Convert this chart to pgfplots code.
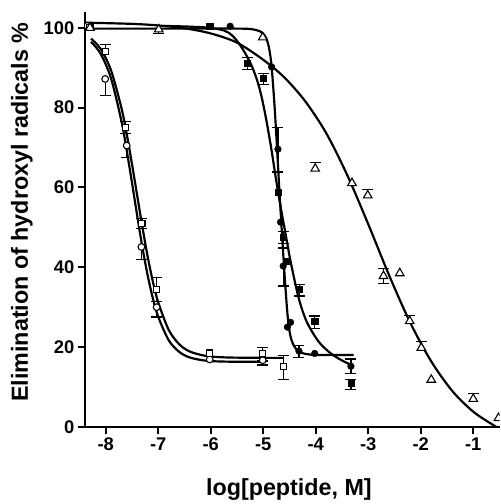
\documentclass[border=0pt]{standalone}
\usepackage{fontspec}
\setmainfont{Liberation Sans}
\usepackage{pgfplots}
\usepackage{pgfplotstable}
\pgfplotsset{compat=1.18}

% fitted curves
\pgfplotstableread{
x y
-8.28 96.5
-8.1 93.6
-7.9 87.4
-7.7 76.6
-7.6 69.3
-7.5 61.2
-7.4 52.9
-7.3 44.9
-7.2 37.9
-7.1 32.1
-7.0 27.6
-6.8 21.7
-6.6 18.8
-6.4 17.4
-6.1 16.6
-5.7 16.35
-5.0 16.3
}\cOC
\pgfplotstableread{
x y
-8.28 97.3
-8.1 94.8
-7.9 89.4
-7.7 79.9
-7.6 73.4
-7.5 65.9
-7.4 57.9
-7.3 50.0
-7.2 42.6
-7.1 36.3
-7.0 31.2
-6.8 24.3
-6.6 20.7
-6.4 18.9
-6.1 17.8
-5.7 17.4
-5.0 17.3
-4.6 17.3
}\cOS
\pgfplotstableread{
x y
-8.3 99.8
-6.5 99.8
-5.4 99.8
-5.15 99.5
-5.02 98.8
-4.94 97.3
-4.89 95.0
-4.85 91.5
-4.82 87.0
-4.78 79.5
-4.74 70.5
-4.70 61.0
-4.66 52.0
-4.62 43.5
-4.58 35.5
-4.54 28.5
-4.50 24.0
-4.45 21.3
-4.38 19.6
-4.28 18.6
-4.10 18.1
-3.80 18.0
-3.28 18.0
}\cFC
\pgfplotstableread{
x y
-6.9 100.5
-6.4 100.3
-6.0 100.0
-5.74 99.3
-5.6 98.2
-5.48 96.4
-5.36 94.0
-5.23 90.8
-5.12 87.0
-5.04 83.2
-4.95 77.5
-4.85 70.0
-4.75 61.5
-4.66 54.5
-4.57 48.0
-4.48 41.5
-4.35 33.6
-4.26 29.4
-4.16 26.0
-4.03 23.0
-3.91 20.8
-3.75 18.8
-3.60 17.4
-3.45 16.3
-3.32 15.5
}\cFS
\pgfplotstableread{
x y
-8.38 101.3
-7.5 101.0
-7.0 100.6
-6.5 99.9
-6.0 98.6
-5.5 96.3
-5.0 92.0
-4.6 87.6
-4.2 81.6
-3.8 73.6
-3.4 63.1
-3.0 50.8
-2.6 37.9
-2.2 26.1
-1.8 16.4
-1.4 9.0
-1.0 3.8
-0.6 0.3
-0.5 -0.4
}\cTR

% measured points
\pgfplotstableread{
x y
-8.35 100.5
-8.01 87.2
-7.60 70.5
-7.32 45.1
-7.03 30.0
-6.02 16.9
-5.01 16.7
}\pOC
\pgfplotstableread{
x y
-8.30 100.0
-8.01 94.0
-7.62 75.0
-7.31 51.0
-7.03 34.5
-6.02 18.5
-5.01 18.4
-4.62 15.2
}\pOS
\pgfplotstableread{
x y
-5.63 100.4
-4.84 90.2
-4.72 69.6
-4.67 51.3
-4.62 40.3
-4.54 25.0
-4.48 26.2
-4.32 19.0
-4.02 18.4
-3.33 15.2
}\pFC
\pgfplotstableread{
x y
-6.02 100.4
-5.30 91.2
-5.00 87.3
-4.72 58.9
-4.62 47.5
-4.54 41.5
-4.31 34.5
-4.02 26.5
-3.33 11.0
}\pFS
\pgfplotstableread{
x y
-8.30 100.0
-6.99 99.6
-5.01 97.6
-4.01 64.7
-3.31 61.1
-3.01 58.0
-2.71 37.8
-2.40 38.5
-2.21 26.5
-1.99 19.8
-1.80 11.8
-1.00 7.0
-0.52 2.2
}\pTR

% error bars (upper / lower)
\pgfplotstableread{
x y e
-8.01 94.0 1.8
-7.62 75.0 1.5
-7.31 51.0 1.2
-7.03 34.5 3.0
-5.01 18.4 1.5
-4.62 15.2 2.7
-4.72 69.6 5.4
-4.62 40.3 4.5
-4.32 19.0 1.4
-3.33 15.2 1.8
-5.30 91.2 1.4
-5.00 87.3 1.2
-4.62 47.5 1.5
-4.31 34.5 1.2
-4.02 26.5 1.3
-3.33 11.0 0.9
-4.01 64.7 1.6
-3.01 58.0 1.4
-2.71 37.8 1.9
-2.21 26.5 1.5
-1.99 19.8 1.6
-1.00 7.0 1.4
}\eUp
\pgfplotstableread{
x y e
-8.01 87.2 4.2
-7.60 70.5 3.0
-7.32 45.1 3.2
-7.03 30.0 2.5
-5.01 16.7 1.2
-7.62 75.0 1.5
-7.31 51.0 1.2
-7.03 34.5 3.0
-5.01 18.4 1.9
-4.62 15.2 3.3
-4.72 69.6 5.7
-4.62 40.3 5.0
-4.32 19.0 1.6
-3.33 15.2 1.8
-5.30 91.2 1.7
-5.00 87.3 1.5
-4.62 47.5 1.5
-4.31 34.5 1.7
-4.02 26.5 1.9
-3.33 11.0 1.6
-6.99 99.6 1.1
-2.71 37.8 1.9
}\eDn

\begin{document}
\begin{tikzpicture}
\begin{axis}[
  scale only axis, width=418pt, height=418.7pt,
  xmin=-8.39, xmax=-0.5, ymin=0, ymax=104,
  axis lines*=left,
  axis line style={line width=2.2pt},
  xtick={-8,-7,...,-1}, ytick={0,20,...,100},
  tick align=outside, major tick length=7.5pt,
  tick style={line width=2pt, black},
  ticklabel style={font=\bfseries\fontsize{18.5}{20}\selectfont},
  /pgf/number format/assume math mode=true,
  xlabel={log[peptide, M]},
  ylabel={Elimination of hydroxyl radicals \%},
  label style={font=\bfseries\fontsize{23.5}{27}\selectfont},
  xlabel style={at={(axis description cs:0.4916,-0.166)}, anchor=base},
  ylabel style={at={(axis description cs:-0.153,0.5175)}, anchor=center},
  clip marker paths=true,
]
\coordinate (tl) at (rel axis cs:0,1);
\coordinate (br) at (rel axis cs:1,0);

\addplot[line width=2.2pt, smooth, tension=0.5] table {\cOC};
\addplot[line width=2.2pt, smooth, tension=0.5] table {\cOS};
\addplot[line width=2.2pt, smooth, tension=0.5] table {\cFC};
\addplot[line width=2.2pt, smooth, tension=0.5] table {\cFS};
\addplot[line width=2.2pt, smooth, tension=0.5] table {\cTR};

\addplot[draw=none, mark=none, error bars/.cd, y dir=plus, y explicit,
  error bar style={line width=1.3pt},
  error mark options={rotate=90, line width=1.3pt, mark size=5.5pt}]
  table[x=x, y=y, y error=e] {\eUp};
\addplot[draw=none, mark=none, error bars/.cd, y dir=minus, y explicit,
  error bar style={line width=1.3pt},
  error mark options={rotate=90, line width=1.3pt, mark size=5.5pt}]
  table[x=x, y=y, y error=e] {\eDn};

\addplot[only marks, mark=*, mark size=3.4pt, mark options={fill=white, line width=1.1pt}] table {\pOC};
\addplot[only marks, mark=square*, mark size=3.1pt, mark options={fill=white, line width=1.1pt}] table {\pOS};
\addplot[only marks, mark=triangle*, mark size=5pt, mark options={fill=white, line width=1.1pt}] table {\pTR};
\addplot[only marks, mark=*, mark size=3.4pt, mark options={fill=black}] table {\pFC};
\addplot[only marks, mark=square*, mark size=3.1pt, mark options={fill=black}] table {\pFS};
\end{axis}
\path ([xshift=-86pt, yshift=12pt]tl) ([yshift=-71.3pt]br);
\end{tikzpicture}
\end{document}
